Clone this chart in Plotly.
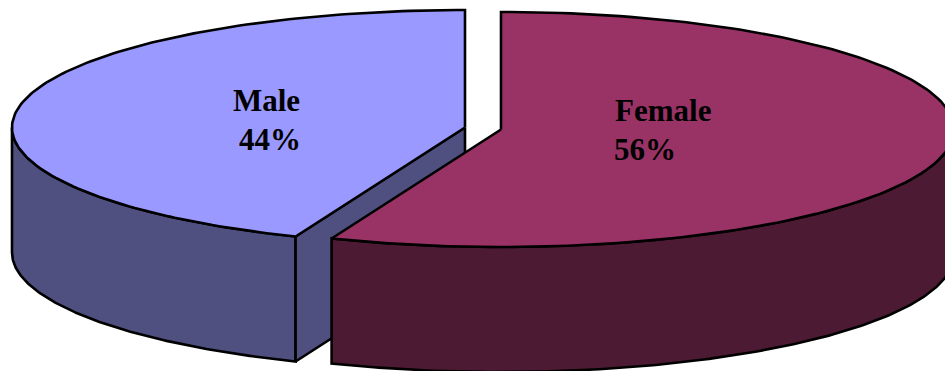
import numpy as np
import plotly.graph_objects as go

categories = ["Female", "Male"]
shares = [56.1, 43.9]
top_colors = ["#993366", "#9999FF"]
side_colors = ["#4D1A33", "#4F4F80"]

W, H = 945, 371
RY, DEPTH = 117.5, 125
female_frac = shares[0] / sum(shares)
male_frac = shares[1] / sum(shares)


def pt(cx, cy, rx, theta):
    return cx + rx * np.sin(theta), cy - RY * np.cos(theta)


def arc(cx, cy, rx, a, b, n=160):
    th = np.linspace(a, b, n)
    return pt(cx, cy, rx, th)


fig = go.Figure()


def poly(xs, ys, color):
    fig.add_trace(go.Scatter(
        x=list(xs) + [xs[0]], y=list(ys) + [ys[0]], mode="lines", fill="toself",
        fillcolor=color, line=dict(color="#000000", width=2.6), hoverinfo="skip", showlegend=False))


# Male wedge: runs anticlockwise from the top
cx, cy, rx = 465, 127.5, 453
end = -2 * np.pi * male_frac
ax, ay = arc(cx, cy, rx, -np.pi / 2, end)
# outer wall
poly(np.r_[ax, ax[::-1]], np.r_[ay, ay[::-1] + DEPTH], side_colors[1])
# cut wall
ex, ey = pt(cx, cy, rx, end)
poly([cx, ex, ex, cx], [cy, ey, ey + DEPTH, cy + DEPTH], side_colors[1])
# top
tx, ty = arc(cx, cy, rx, 0, end)
poly(np.r_[cx, tx], np.r_[cy, ty], top_colors[1])

# Female wedge: runs clockwise from the top
cx, cy, rx = 501, 129.5, 453
end = 2 * np.pi * female_frac
ax, ay = arc(cx, cy, rx, np.pi / 2, end)
poly(np.r_[ax, ax[::-1]], np.r_[ay, ay[::-1] + DEPTH], side_colors[0])
tx, ty = arc(cx, cy, rx, 0, end)
poly(np.r_[cx, tx], np.r_[cy, ty], top_colors[0])

font = dict(family="Liberation Serif", size=31, color="#000000")
labels = [
    (f"<b>{categories[1]}</b>", 231, 100),
    (f"<b>{round(shares[1])}%</b>", 237, 139),
    (f"<b>{categories[0]}</b>", 613, 110),
    (f"<b>{round(shares[0])}%</b>", 612, 149),
]
annotations = [dict(x=x, y=y, text=t, xref="x", yref="y", showarrow=False,
                    xanchor="left", yanchor="middle", font=font) for t, x, y in labels]

fig.update_layout(
    width=W, height=H, margin=dict(l=0, r=0, t=0, b=0),
    paper_bgcolor="#FFFFFF", plot_bgcolor="#FFFFFF", annotations=annotations,
    xaxis=dict(range=[0, W], visible=False, fixedrange=True),
    yaxis=dict(range=[H, 0], visible=False, fixedrange=True),
)
fig.write_html("out.html", config={"displayModeBar": False},
               post_script="document.body.style.margin='0';document.body.style.overflow='hidden';")
